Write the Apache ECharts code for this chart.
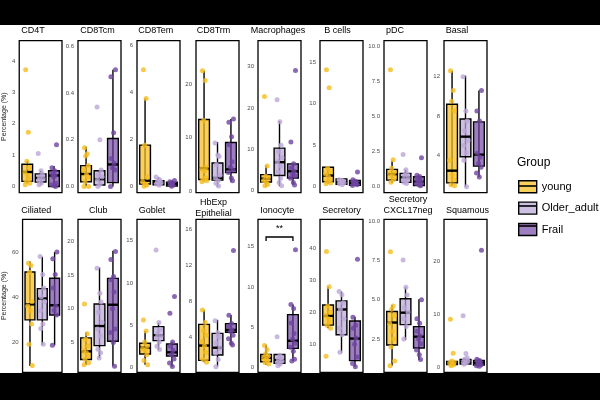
<!DOCTYPE html>
<html>
<head>
<meta charset="utf-8">
<script src="https://cdn.jsdelivr.net/npm/echarts@6/dist/echarts.min.js"></script>
<style>
  html, body { margin: 0; background: #fff; }
  #chart { width: 600px; height: 400px; }
</style>
</head>
<body>
<div id="chart"></div>
<script>
// cell types, one panel each
var CELL_TYPES = ['CD4T', 'CD8Tcm', 'CD8Tem', 'CD8Trm', 'Macrophages', 'B cells', 'pDC', 'Basal',
  'Ciliated', 'Club', 'Goblet', 'HbExp\nEpithelial', 'Ionocyte', 'Secretory', 'Secretory\nCXCL17neg', 'Squamous'];
var GROUPS = ['young', 'Older_adult', 'Frail'];

// y range and tick labels of every panel
var Y_MIN = [-0.2, -0.027, -0.27, -0.25, -0.48, -0.77, -0.45, 0.2, 6.5, 0.6, -0.59, 0.07, -0.62, 1.25, 0.38, -0.94];
var Y_MAX = [4.65, 0.624, 6.21, 28.1, 36.3, 17.6, 10.42, 15.66, 74.5, 23.25, 17.55, 17.07, 18.4, 49.1, 10.13, 27.92];
var Y_TICKS = [[0, 1, 2, 3, 4], [0, 0.2, 0.4, 0.6], [0, 2, 4, 6], [0, 10, 20], [0, 10, 20, 30], [0, 5, 10, 15],
  [0, 2.5, 5, 7.5, 10], [4, 8, 12], [20, 40, 60], [5, 10, 15, 20], [0, 5, 10, 15], [4, 8, 12, 16],
  [0, 5, 10, 15], [10, 20, 30, 40], [2.5, 5, 7.5, 10], [0, 10, 20]];
var TICK_DIGITS = [0, 1, 0, 0, 0, 0, 1, 0, 0, 0, 0, 0, 0, 0, 1, 0];

// boxplot stats [lower whisker, Q1, median, Q3, upper whisker]
var BOX_YOUNG = [[0.1, 0.16, 0.46, 0.71, 0.8], [0, 0.02, 0.053, 0.089, 0.17], [0, 0.1, 0.24, 1.76, 3.75],
  [1.8, 2.2, 4.3, 13.4, 22.5], [1.0, 2.1, 2.9, 3.9, 6.05], [0.3, 0.56, 1.3, 2.3, 2.3], [0.26, 0.45, 0.88, 1.22, 1.84],
  [0.9, 1.2, 2.44, 9.2, 12.6], [9.3, 29.8, 36.7, 51.1, 55.7], [1.7, 2.5, 3.7, 5.7, 6.5], [0.3, 1.58, 2.33, 2.85, 4.3],
  [1.2, 1.4, 3.04, 5.4, 7.0], [0.3, 0.7, 1.2, 1.6, 2.8], [15, 16, 18.9, 22.3, 28], [0.79, 2.12, 3.55, 4.25, 4.67],
  [0.3, 0.5, 0.8, 1.13, 1.2]];
var BOX_OLDER = [[0.05, 0.14, 0.27, 0.4, 0.5], [0, 0.006, 0.031, 0.067, 0.07], [0.05, 0.07, 0.18, 0.24, 0.4],
  [0.9, 2.1, 2.5, 5.3, 9.2], [1.1, 3.7, 6.9, 10.3, 16.8], [0.2, 0.25, 0.5, 0.9, 0.9], [0.2, 0.29, 0.64, 0.93, 1.2],
  [0.8, 3.86, 5.9, 7.7, 12.1], [18.7, 29.8, 39.3, 43.7, 57.9], [2.7, 4.55, 7.45, 10.7, 16.1], [2.05, 3.16, 3.8, 4.82, 5.3],
  [0.7, 2.0, 2.8, 4.4, 5.9], [0.2, 0.5, 0.9, 1.6, 1.6], [7.4, 13, 20.9, 23.6, 26.5], [2.44, 3.42, 4.18, 5.07, 5.8],
  [0.6, 0.63, 1.07, 1.5, 1.8]];
var BOX_FRAIL = [[0, 0, 0.35, 0.5, 0.65], [0, 0.016, 0.094, 0.205, 0.5], [0, 0.01, 0.1, 0.18, 0.25],
  [1.8, 3.5, 4.1, 9.1, 13.5], [1.4, 3.06, 4.7, 6.5, 6.5], [0.1, 0.12, 0.4, 0.7, 0.8], [0.05, 0.07, 0.33, 0.69, 0.8],
  [1.8, 2.9, 4.07, 7.4, 10.6], [18.5, 32, 36.3, 48.3, 60], [1.55, 5.2, 10.6, 14.5, 18.6], [0.08, 1.34, 1.78, 2.77, 3.04],
  [3.1, 4.52, 4.78, 5.48, 6.44], [0.8, 2.36, 3.3, 6.55, 7.8], [3.0, 4.9, 11.8, 17.3, 18.6], [1.17, 1.93, 2.65, 3.29, 5.03],
  [0.2, 0.44, 0.88, 1.3, 1.5]];

// individual samples (percentage)
var PTS_YOUNG = [[3.72, 1.73, 0.8, 0.6, 0.45, 0.35, 0.25, 0.15, 0.1, 0.05], [0.165, 0.14, 0.13, 0.09, 0.07, 0.05, 0.04, 0.02, 0, 0],
  [4.97, 3.75, 1.75, 0.4, 0.2, 0.1, 0.05, 0], [22.5, 20.7, 13.2, 4.5, 4.2, 3.8, 2.5, 2.2, 2.0, 1.8],
  [22.8, 6.0, 3.5, 3.0, 2.5, 2.0, 1.5, 1.2], [14.1, 11.9, 2.2, 1.8, 1.5, 1.2, 0.8, 0.6, 0.4, 0.3],
  [8.35, 1.9, 1.3, 1.0, 0.9, 0.7, 0.5, 0.3], [12.6, 10.6, 9.5, 8.5, 3.5, 2.0, 1.5, 1.0, 0.9],
  [55, 54, 51, 38, 36, 34, 28, 19, 9.5], [10.7, 6.3, 5.5, 4.5, 3.8, 3.5, 3.0, 2.5, 2.0, 1.7],
  [5.6, 4.3, 3.0, 2.5, 2.2, 2.0, 1.5, 0.8, 0.3], [7.0, 5.6, 4.7, 4.2, 3.5, 3.0, 2.3, 1.5, 1.2],
  [2.7, 2.2, 1.7, 1.4, 1.2, 1.0, 0.8, 0.6, 0.4], [39, 28, 22, 20, 19, 18, 17, 16, 15, 6.25],
  [8.07, 4.6, 4.4, 4.0, 3.5, 3.0, 2.5, 2.0, 1.1, 0.8], [9.06, 2.64, 1.2, 1.0, 0.8, 0.6, 0.5, 0.3]];
var PTS_OLDER = [[1.05, 0.5, 0.4, 0.3, 0.25, 0.2, 0.1, 0.05], [0.34, 0.2, 0.07, 0.05, 0.04, 0.03, 0.01, 0],
  [0.4, 0.3, 0.25, 0.2, 0.15, 0.1, 0.05], [9.0, 6.8, 6.5, 5.0, 3.0, 2.5, 2.0, 1.5, 1.0],
  [22.0, 16.7, 11.0, 9.5, 8.0, 7.0, 6.0, 4.5, 3.0, 2.0, 1.2], [0.8, 0.7, 0.6, 0.5, 0.4, 0.3, 0.2],
  [2.29, 1.2, 0.9, 0.8, 0.6, 0.5, 0.4, 0.3, 0.2], [12.0, 8.5, 7.5, 6.5, 5.5, 5.0, 4.3, 3.5, 0.8],
  [58, 50, 44, 40, 38, 34, 28, 26, 19], [16, 12.3, 11.0, 9.5, 8, 7, 6, 4, 3.5, 2.7],
  [13.9, 5.3, 4.5, 4.0, 3.7, 3.5, 3.0, 2.5, 2.1], [5.8, 4.5, 4.0, 3.3, 2.8, 2.2, 1.5, 0.7],
  [3.8, 1.5, 1.2, 1.0, 0.8, 0.6, 0.4, 0.2], [26.5, 25.5, 23, 21, 18, 15, 13, 7.5],
  [7.54, 5.8, 5.3, 4.5, 4.2, 3.8, 3.3, 2.5], [9.75, 2.6, 1.8, 1.5, 1.2, 1.0, 0.8, 0.6]];
var PTS_FRAIL = [[1.33, 0.6, 0.5, 0.4, 0.35, 0.3, 0.1, 0.05, 0.02, 0], [0.5, 0.47, 0.23, 0.12, 0.1, 0.08, 0.07, 0],
  [0.25, 0.2, 0.15, 0.1, 0.05, 0], [13.5, 12.9, 10.2, 8.7, 5.5, 4.5, 4.0, 3.5, 2.5, 2.0],
  [29.1, 11.8, 6.5, 5.5, 4.7, 4.0, 3.5, 3.0, 2.0, 1.4], [1.73, 0.8, 0.6, 0.5, 0.4, 0.3, 0.2, 0.1],
  [2.05, 0.8, 0.7, 0.6, 0.5, 0.4, 0.3, 0.2, 0.1, 0.05], [10.6, 8.5, 7.5, 4.2, 3.8, 3.2, 2.8, 2.2, 1.8],
  [60, 57, 50, 44, 36, 34, 32, 18.5], [18.5, 17.3, 14.8, 14.3, 12.5, 10, 7, 6.5, 5, 1.5],
  [8.4, 6.4, 3.0, 2.5, 2.0, 1.5, 1.0, 0.5, 0.1], [13.6, 6.4, 5.5, 5.2, 4.8, 4.6, 4.2, 3.8, 3.3, 3.1],
  [14.6, 7.8, 7.3, 5.5, 4.2, 3.5, 3.0, 2.5, 2.0, 1.0, 0.8], [36.6, 18.5, 16, 15, 12, 10, 6, 4, 3],
  [5.0, 3.8, 3.5, 3.0, 2.7, 2.5, 2.2, 1.8, 1.5, 1.2], [22.1, 1.5, 1.3, 1.2, 1.0, 0.8, 0.5, 0.3, 0.2]];

// significance bracket: panel, from group, to group, height, label
var SIG_PANEL = 12;
var SIG_PAIR = [1, 3];
var SIG_Y = [15.7, 16.2, 17.2];
var SIG_LABEL = '**';

// ---- layout / style ----
var COLORS = ['#F6BD1E', '#BBA8D8', '#6E43A0'];
var FILLS = ['rgba(246,189,30,0.72)', 'rgba(187,168,216,0.72)', 'rgba(110,67,160,0.68)'];
var PANEL_LEFT = [19, 78, 137, 196, 258, 320, 384, 444];
var PANEL_W = 43;
var ROW_TOP = [40.7, 219.3];
var ROW_H = [152, 153];
var TITLE_X = [33, 97.5, 155.8, 213.5, 278, 337.5, 395, 457, 36.3, 98.3, 152, 213.4, 277.3, 341.5, 408, 467.5];
var TITLE_Y = [30.7, 30.7, 30.7, 30.7, 30.7, 30.7, 30.7, 30.7, 210.7, 210.7, 210.7, 208, 210.7, 210.7, 205.5, 210.7];
var JITTER = [-0.12, 0.08, -0.03, 0.16, -0.18, 0.03, 0.12, -0.08, 0.19, -0.15, 0.05];
var BOX_W = 0.8;
var LEGEND_ROW_Y = [186, 206, 226];
var FONT = 'Liberation Sans';

var chart = echarts.init(document.getElementById('chart'));

function renderBox(params, api) {
  var x = api.value(0);
  var lo = api.coord([x, api.value(1)]);
  var q1 = api.coord([x, api.value(2)]);
  var md = api.coord([x, api.value(3)]);
  var q3 = api.coord([x, api.value(4)]);
  var hi = api.coord([x, api.value(5)]);
  var half = api.size([BOX_W, 0])[0] / 2;
  return {
    type: 'group',
    children: [
      { type: 'line', shape: { x1: lo[0], y1: lo[1], x2: hi[0], y2: hi[1] }, style: { stroke: '#000', lineWidth: 1.4 } },
      { type: 'rect', shape: { x: q3[0] - half, y: q3[1], width: half * 2, height: Math.max(q1[1] - q3[1], 1) },
        style: { fill: api.visual('color'), stroke: '#000', lineWidth: 1.4 } },
      { type: 'line', shape: { x1: md[0] - half, y1: md[1], x2: md[0] + half, y2: md[1] }, style: { stroke: '#000', lineWidth: 2.4 } }
    ]
  };
}

function renderSig(params, api) {
  var a = api.coord([api.value(0), api.value(2)]);
  var b = api.coord([api.value(0), api.value(3)]);
  var c = api.coord([api.value(1), api.value(3)]);
  var d = api.coord([api.value(1), api.value(2)]);
  var t = api.coord([(api.value(0) + api.value(1)) / 2, api.value(4)]);
  return {
    type: 'group',
    children: [
      { type: 'polyline', shape: { points: [a, b, c, d] }, style: { stroke: '#000', lineWidth: 1.3, fill: null } },
      { type: 'text', x: t[0], y: t[1], style: { text: SIG_LABEL, font: '9px ' + FONT, fill: '#000', align: 'center', verticalAlign: 'middle' } }
    ]
  };
}

var grids = [], xAxes = [], yAxes = [], boxSeries = [], ptSeries = [], graphics = [];
var boxes = [BOX_YOUNG, BOX_OLDER, BOX_FRAIL];
var pts = [PTS_YOUNG, PTS_OLDER, PTS_FRAIL];

CELL_TYPES.forEach(function (name, i) {
  var row = Math.floor(i / 8), col = i % 8;
  grids.push({
    left: PANEL_LEFT[col], top: ROW_TOP[row], width: PANEL_W, height: ROW_H[row],
    show: true, borderColor: '#000', borderWidth: 1.3, backgroundColor: '#fff'
  });
  xAxes.push({ gridIndex: i, type: 'value', min: 0.4, max: 3.6, show: false });
  var digits = TICK_DIGITS[i];
  yAxes.push({
    gridIndex: i, type: 'value', min: Y_MIN[i], max: Y_MAX[i],
    name: col === 0 ? 'Percentage (%)' : '', nameLocation: 'middle', nameGap: 11,
    nameTextStyle: { fontSize: 7, color: '#222', fontFamily: FONT },
    axisLine: { show: false }, axisTick: { show: false }, splitLine: { show: false },
    axisLabel: {
      customValues: Y_TICKS[i], fontSize: 6, color: '#4d4d4d', margin: 4, fontFamily: FONT,
      formatter: function (v) { return Number(v).toFixed(digits); }
    }
  });
  GROUPS.forEach(function (g, k) {
    boxSeries.push({
      type: 'custom', name: g, xAxisIndex: i, yAxisIndex: i, z: 2,
      renderItem: renderBox,
      itemStyle: { color: FILLS[k] },
      encode: { x: 0, y: [1, 2, 3, 4, 5] },
      data: [[k + 1].concat(boxes[k][i])]
    });
    ptSeries.push({
      type: 'scatter', name: g, xAxisIndex: i, yAxisIndex: i, z: 3,
      symbolSize: 5, silent: true,
      itemStyle: { color: COLORS[k], opacity: 0.8 },
      data: pts[k][i].map(function (v, j) { return [k + 1 + JITTER[(j + k * 4) % JITTER.length], v]; })
    });
  });
  graphics.push({
    type: 'text', x: TITLE_X[i], y: TITLE_Y[i], silent: true,
    style: { text: name, font: '9px ' + FONT, fill: '#000', align: 'center', verticalAlign: 'middle', lineHeight: 11 }
  });
});

var sigSeries = {
  type: 'custom', xAxisIndex: SIG_PANEL, yAxisIndex: SIG_PANEL, z: 4, silent: true,
  renderItem: renderSig,
  encode: { x: [0, 1], y: [2, 3, 4] },
  data: [[SIG_PAIR[0], SIG_PAIR[1], SIG_Y[0], SIG_Y[1], SIG_Y[2]]]
};

// letterbox bars, legend title and the median strokes of the legend keys
graphics.push({ type: 'rect', left: 0, top: 0, z: 100, shape: { width: 600, height: 25 }, style: { fill: '#000' } });
graphics.push({ type: 'rect', left: 0, top: 373, z: 100, shape: { width: 600, height: 27 }, style: { fill: '#000' } });
graphics.push({ type: 'text', x: 517, y: 163, style: { text: 'Group', font: '12px ' + FONT, fill: '#000', verticalAlign: 'middle' } });
LEGEND_ROW_Y.forEach(function (y) {
  graphics.push({ type: 'line', z: 50, silent: true, shape: { x1: 518, y1: y, x2: 536, y2: y }, style: { stroke: '#000', lineWidth: 1.6 } });
});

chart.setOption({
  animation: false,
  backgroundColor: '#fff',
  textStyle: { fontFamily: FONT },
  grid: grids,
  xAxis: xAxes,
  yAxis: yAxes,
  legend: {
    data: GROUPS, orient: 'vertical', left: 518, top: 180, padding: 0,
    icon: 'rect', itemWidth: 18, itemHeight: 12, itemGap: 8,
    itemStyle: { borderColor: '#000', borderWidth: 1.4 },
    textStyle: { fontSize: 11, color: '#000', fontFamily: FONT }
  },
  graphic: graphics,
  series: boxSeries.concat(ptSeries, [sigSeries])
});
</script>
</body>
</html>
